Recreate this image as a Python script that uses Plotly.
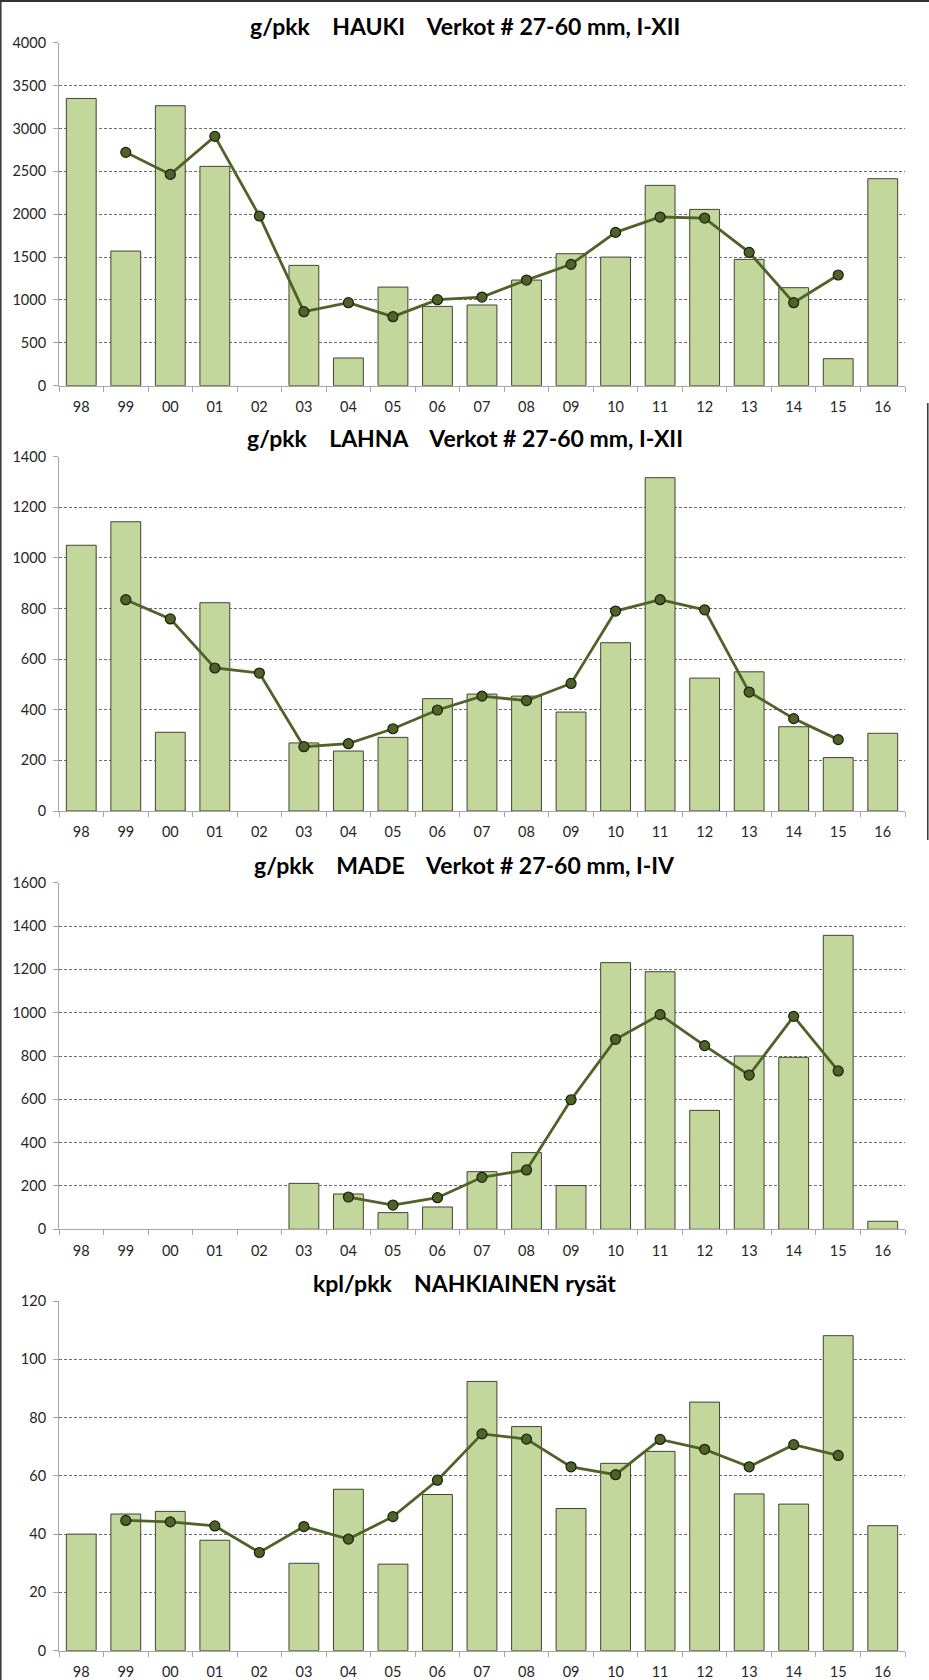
import plotly.graph_objects as go

years = ["98", "99", "00", "01", "02", "03", "04", "05", "06", "07",
         "08", "09", "10", "11", "12", "13", "14", "15", "16"]

hauki_bars = [3350, 1570, 3265, 2558, None, 1403, 323, 1150, 925, 941,
              1232, 1539, 1500, 2336, 2056, 1473, 1143, 315, 2414]
hauki_line = [None, 2721, 2464, 2908, 1979, 863, 968, 805, 1003, 1034,
              1232, 1415, 1788, 1967, 1955, 1555, 968, 1291, None]

lahna_bars = [1050, 1143, 311, 823, None, 269, 237, 291, 444, 462,
              454, 391, 665, 1317, 525, 550, 333, 211, 307]
lahna_line = [None, 835, 759, 565, 545, 254, 266, 325, 399, 454,
              436, 504, 790, 835, 795, 470, 365, 282, None]

made_bars = [None, None, None, None, None, 212, 163, 77, 103, 266,
             354, 202, 1231, 1189, 549, 800, 794, 1357, 37]
made_line = [None, None, None, None, None, None, 149, 112, 146, 240,
             274, 598, 877, 991, 848, 712, 983, 731, None]

nahk_bars = [40, 46.9, 47.8, 37.9, None, 30.0, 55.4, 29.7, 53.6, 92.4,
             76.9, 48.8, 64.3, 68.4, 85.3, 53.8, 50.3, 108.1, 42.9]
nahk_line = [None, 44.7, 44.2, 42.8, 33.7, 42.6, 38.3, 46.0, 58.5, 74.4,
             72.6, 63.1, 60.4, 72.5, 69.1, 63.1, 70.7, 67.0, None]

S = "\u00a0"
titles = [
    "g/pkk" + S * 4 + "HAUKI" + S * 4 + "Verkot # 27-60 mm, I-XII",
    "g/pkk" + S * 4 + "LAHNA" + S * 4 + "Verkot # 27-60 mm, I-XII",
    "g/pkk" + S * 4 + "MADE" + S * 4 + "Verkot # 27-60 mm, I-IV",
    "kpl/pkk" + S * 4 + "NAHKIAINEN rysät",
]
y_max = [4000, 1400, 1600, 120]
y_dtick = [500, 200, 200, 20]

W, H = 929, 1680
ML, MR = 59, 24
PW = W - ML - MR
# pixel positions (top, bottom) of each plot area and title centre
plot_px = [(42.7, 385.7), (456.7, 811.0), (882.7, 1229.3), (1301.0, 1650.7)]
title_px = [26, 437.5, 865, 1282.5]

BAR_FILL = "#c3d69b"
BAR_EDGE = "#3f4530"
LINE_COL = "#4f6228"
TICK_FONT = dict(family="Lato", size=14.5, color="#262626")

fig = go.Figure()
series = [(hauki_bars, hauki_line), (lahna_bars, lahna_line),
          (made_bars, made_line), (nahk_bars, nahk_line)]

for i, (bars, line) in enumerate(series):
    k = "" if i == 0 else str(i + 1)
    fig.add_trace(go.Bar(
        x=years, y=bars, xaxis="x" + k, yaxis="y" + k,
        marker=dict(color=BAR_FILL, line=dict(color=BAR_EDGE, width=1)),
        showlegend=False, hoverinfo="x+y"))
    fig.add_trace(go.Scatter(
        x=years, y=line, xaxis="x" + k, yaxis="y" + k, mode="lines+markers",
        line=dict(color=LINE_COL, width=2.8),
        marker=dict(size=10, color=LINE_COL, line=dict(color="#1a1f0e", width=1.2)),
        connectgaps=False, showlegend=False))

    top, bot = plot_px[i]
    dom = [1 - bot / H, 1 - top / H]
    fig.layout["xaxis" + k] = dict(
        domain=[0, 1], type="category", range=[-0.5, 18.5], automargin=False,
        anchor="y" + k, showline=True, linecolor="#a6a6a6", linewidth=1,
        ticks="outside", tickson="boundaries", ticklen=5, tickcolor="#a6a6a6",
        showgrid=False, tickfont=TICK_FONT, ticklabelstandoff=8, fixedrange=True)
    fig.layout["yaxis" + k] = dict(
        domain=dom, range=[0, y_max[i]], dtick=y_dtick[i], tick0=0, automargin=False,
        anchor="x" + k, showline=True, linecolor="#a6a6a6", linewidth=1,
        ticks="outside", ticklen=5, tickcolor="#a6a6a6",
        showgrid=True, gridcolor="#6f6f6f", gridwidth=1, griddash="3px,2px",
        zeroline=False, tickfont=TICK_FONT, ticklabelstandoff=4, fixedrange=True)
    fig.add_annotation(
        text="<b>" + titles[i] + "</b>", xref="paper", yref="paper",
        x=(464.5 - ML) / PW, y=1 - title_px[i] / H,
        xanchor="center", yanchor="middle", showarrow=False,
        font=dict(family="Lato", size=23, color="#000000"))

# frame lines of the original picture
fig.add_shape(type="line", xref="paper", yref="paper",
              x0=-ML / PW, x1=(W - ML) / PW, y0=1 - 1 / H, y1=1 - 1 / H,
              line=dict(color="#333333", width=2))
fig.add_shape(type="line", xref="paper", yref="paper",
              x0=-(ML - 0.8) / PW, x1=-(ML - 0.8) / PW, y0=0, y1=1,
              line=dict(color="#333333", width=1.5))
fig.add_shape(type="line", xref="paper", yref="paper",
              x0=(W - ML - 1.2) / PW, x1=(W - ML - 1.2) / PW,
              y0=1 - 840 / H, y1=1 - 403 / H,
              line=dict(color="#333333", width=1.5))

fig.update_layout(
    width=W, height=H, margin=dict(l=ML, r=MR, t=0, b=0, autoexpand=False),
    paper_bgcolor="white", plot_bgcolor="white",
    bargap=0.33, font=dict(family="Lato"), showlegend=False)

fig.write_html("out.html", config={"displayModeBar": False},
               post_script="document.body.style.margin='0';document.body.style.overflow='hidden';")
